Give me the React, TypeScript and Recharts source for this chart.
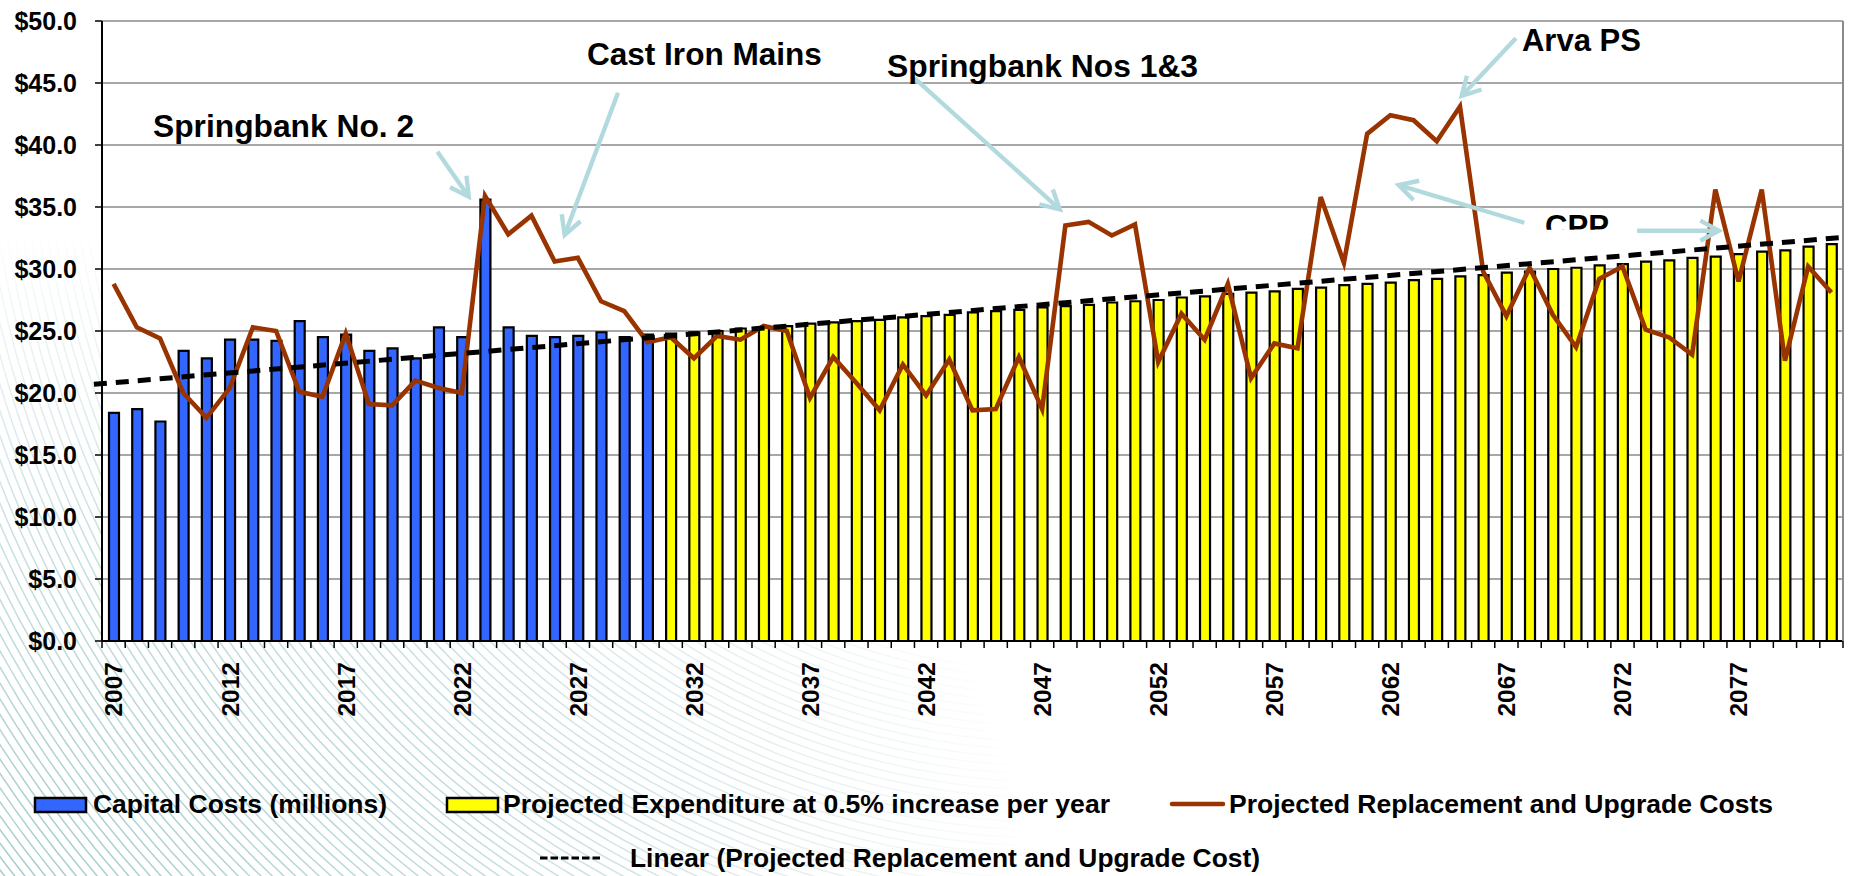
import React from 'react';
import {
  ComposedChart,
  Bar,
  Line,
  XAxis,
  YAxis,
  CartesianGrid,
  ReferenceLine,
  ReferenceDot,
  Legend,
} from 'recharts';

const FONT = '"Liberation Sans", Arial, Helvetica, sans-serif';

// ---------- DATA ----------
const YEARS: number[] = Array.from({ length: 75 }, (_, i) => 2007 + i); // 2007..2081

// Capital Costs (millions), 2007–2030
const CAPITAL_COSTS = [
  18.4, 18.7, 17.7, 23.4, 22.8, 24.3, 24.3, 24.2, 25.8, 24.5, 24.7, 23.4,
  23.6, 22.8, 25.3, 24.5, 35.6, 25.3, 24.6, 24.5, 24.6, 24.9, 24.5, 24.7,
];

// Projected Expenditure at 0.5% increase per year, 2031–2081
const PROJECTED_EXPENDITURE = [
  24.8, 24.9, 25.0, 25.2, 25.3, 25.4, 25.6, 25.7, 25.8, 25.9,
  26.1, 26.2, 26.3, 26.5, 26.6, 26.7, 26.9, 27.0, 27.1, 27.3,
  27.4, 27.5, 27.7, 27.8, 28.0, 28.1, 28.2, 28.4, 28.5, 28.7,
  28.8, 28.9, 29.1, 29.2, 29.4, 29.5, 29.7, 29.8, 30.0, 30.1,
  30.3, 30.4, 30.6, 30.7, 30.9, 31.0, 31.2, 31.4, 31.5, 31.8, 32.0,
];

// Projected Replacement and Upgrade Costs, 2007–2081
const REPLACEMENT_COSTS = [
  28.8, 25.3, 24.4, 20.0, 18.0, 20.4, 25.3, 25.0, 20.1, 19.7,
  24.8, 19.1, 19.0, 21.0, 20.4, 20.0, 35.9, 32.8, 34.3, 30.6,
  30.9, 27.4, 26.6, 24.1, 24.5, 22.8, 24.6, 24.3, 25.4, 25.0,
  19.6, 22.9, 20.8, 18.6, 22.3, 19.8, 22.7, 18.6, 18.7, 22.9,
  18.7, 33.5, 33.8, 32.7, 33.6, 22.5, 26.4, 24.3, 28.8, 21.2,
  24.0, 23.6, 35.8, 30.5, 40.9, 42.4, 42.0, 40.3, 43.1, 29.8,
  26.2, 30.1, 26.3, 23.7, 29.2, 30.2, 25.1, 24.5, 23.1, 36.4,
  29.0, 36.4, 22.6, 30.2, 28.1,
];

const Y_TICKS = [0, 5, 10, 15, 20, 25, 30, 35, 40, 45, 50];
const MINOR_TICKS = Array.from({ length: 49 }, (_, i) => i + 1).filter((v) => v % 5 !== 0);
const LABEL_STEP = 5;

// Linear trendline
const TREND_START = { year: 2006.15, value: 20.7 };
const TREND_END = { year: 2081.5, value: 32.55 };

// Callouts (year, value positions)
const ANNOTATIONS = [
  { text: 'Springbank No. 2', year: 2008.7, value: 40.65, length: 261 },
  { text: 'Cast Iron Mains', year: 2027.39, value: 46.45, length: 235 },
  { text: 'Springbank Nos 1&3', year: 2040.32, value: 45.48, length: 311 },
  { text: 'Arva PS', year: 2067.67, value: 47.58, length: 119 },
];
const CPP_LABEL = { text: 'CPP', year: 2068.66, value: 32.6, length: 64 };

const ARROWS = [
  { from: [2020.95, 39.46], to: [2022.3, 35.83] },
  { from: [2028.73, 44.22], to: [2026.43, 32.74] },
  { from: [2041.51, 45.38], to: [2047.76, 34.81] },
  { from: [2067.41, 48.6], to: [2065.07, 43.95] },
  { from: [2067.77, 33.73], to: [2062.36, 36.77] },
  { from: [2072.63, 33.09], to: [2076.15, 33.09] },
];

const chartData = YEARS.map((year, i) => ({
  year,
  capital: i < CAPITAL_COSTS.length ? CAPITAL_COSTS[i] : 0,
  projected: i >= CAPITAL_COSTS.length ? PROJECTED_EXPENDITURE[i - CAPITAL_COSTS.length] : 0,
  replacement: REPLACEMENT_COSTS[i],
}));

// ---------- STYLE ----------
const W = 1856;
const H = 876;
const MARGIN = { top: 21, right: 12, bottom: 0, left: 0 };
const Y_AXIS_W = 102;
const RIGHT_AXIS_W = 1;
const X_AXIS_H = 235;
const PLOT_W = W - MARGIN.left - MARGIN.right - Y_AXIS_W - RIGHT_AXIS_W;
const BAND = PLOT_W / YEARS.length;

const BLUE = '#3366ff';
const YELLOW = '#ffff00';
const BROWN = '#993300';
const ARROW_COLOR = '#b2dade';
const GRID = '#8a8a8a';

function YearTick(props: any) {
  const { x, y, payload, index } = props;
  const year = payload.value as number;
  const showLabel = (year - YEARS[0]) % LABEL_STEP === 0;
  const isLast = index === YEARS.length - 1;
  return (
    <g>
      <line x1={x - BAND / 2} x2={x - BAND / 2} y1={y} y2={y + 7} stroke="#000" strokeWidth={1.5} />
      {isLast && (
        <line x1={x + BAND / 2} x2={x + BAND / 2} y1={y} y2={y + 7} stroke="#000" strokeWidth={1.5} />
      )}
      {showLabel && (
        <text
          transform={`translate(${x},${y + 21}) rotate(-90)`}
          textAnchor="end"
          dy="0.36em"
          fontFamily={FONT}
          fontWeight={700}
          fontSize={24.5}
          fill="#000"
        >
          {year}
        </text>
      )}
    </g>
  );
}

function ArrowShape(props: any) {
  const { x1, y1, x2, y2 } = props;
  if ([x1, y1, x2, y2].some((v) => typeof v !== 'number' || isNaN(v))) return <g />;
  const ang = Math.atan2(y2 - y1, x2 - x1);
  const L = 21;
  const spread = Math.PI / 6.3;
  const a1 = ang + Math.PI - spread;
  const a2 = ang + Math.PI + spread;
  const pts = `${x2 + L * Math.cos(a1)},${y2 + L * Math.sin(a1)} ${x2},${y2} ${x2 + L * Math.cos(a2)},${y2 + L * Math.sin(a2)}`;
  return (
    <g>
      <line x1={x1} y1={y1} x2={x2} y2={y2} stroke={ARROW_COLOR} strokeWidth={4.4} />
      <polyline points={pts} fill="none" stroke={ARROW_COLOR} strokeWidth={4.4} strokeLinejoin="miter" />
    </g>
  );
}

function makeTextShape(text: string, length: number, clipBottom?: number) {
  return (props: any) => {
    const { cx, cy } = props;
    if (typeof cx !== 'number' || typeof cy !== 'number') return <g />;
    const id = 'clip-' + text.replace(/[^a-z0-9]/gi, '');
    return (
      <g>
        {clipBottom !== undefined && (
          <defs>
            <clipPath id={id}>
              <rect x={cx - 10} y={cy - 45} width={length + 20} height={45 - clipBottom} />
            </clipPath>
          </defs>
        )}
        <text
          x={cx}
          y={cy}
          fontFamily={FONT}
          fontWeight={700}
          fontSize={31}
          fill="#000"
          textLength={length}
          lengthAdjust="spacingAndGlyphs"
          clipPath={clipBottom !== undefined ? `url(#${id})` : undefined}
        >
          {text}
        </text>
      </g>
    );
  };
}

const legendText = {
  fontFamily: FONT,
  fontWeight: 700,
  fontSize: 26,
  fill: '#000',
  lengthAdjust: 'spacingAndGlyphs' as const,
};

function LegendContent() {
  return (
    <svg width={W} height={96} style={{ display: 'block' }}>
      <rect x={35} y={18} width={51} height={14} fill={BLUE} stroke="#000" strokeWidth={2.5} />
      <text x={93} y={33} textLength={294} {...legendText}>Capital Costs (millions)</text>
      <rect x={447} y={18} width={51} height={14} fill={YELLOW} stroke="#000" strokeWidth={2.5} />
      <text x={503} y={33} textLength={607} {...legendText}>Projected Expenditure at 0.5% increase per year</text>
      <line x1={1172} x2={1223} y1={24} y2={24} stroke={BROWN} strokeWidth={4.5} strokeLinecap="round" />
      <text x={1229} y={33} textLength={544} {...legendText}>Projected Replacement and Upgrade Costs</text>
      <line x1={540} x2={601} y1={78} y2={78} stroke="#000" strokeWidth={3} strokeDasharray="7.5 3" />
      <text x={630} y={87} textLength={630} {...legendText}>Linear (Projected Replacement and Upgrade Cost)</text>
    </svg>
  );
}

const RINGS = Array.from({ length: 150 }, (_, i) => 600 + i * 8);

function Background() {
  return (
    <svg width={W} height={H} style={{ position: 'absolute', left: 0, top: 0 }}>
      <defs>
        <radialGradient
          id="bgfade"
          gradientUnits="userSpaceOnUse"
          cx={0}
          cy={H}
          r={1050}
          gradientTransform={`translate(0 ${H}) scale(1 0.62) translate(0 ${-H})`}
        >
          <stop offset="0" stopColor="#fff" stopOpacity={0.95} />
          <stop offset="0.55" stopColor="#fff" stopOpacity={0.55} />
          <stop offset="1" stopColor="#fff" stopOpacity={0} />
        </radialGradient>
        <mask id="bgmask">
          <rect x={0} y={0} width={W} height={H} fill="url(#bgfade)" />
        </mask>
      </defs>
      <g mask="url(#bgmask)" fill="none" stroke="#9fc9c9" strokeWidth={1.5}>
        {RINGS.map((r) => (
          <circle key={r} cx={1050} cy={70} r={r} />
        ))}
      </g>
    </svg>
  );
}

export default function App() {
  return (
    <div style={{ position: 'absolute', left: 0, top: 0, width: W, height: H, background: '#fff', fontFamily: FONT }}>
      <Background />
      <div style={{ position: 'absolute', left: 0, top: 0 }}>
        <ComposedChart width={W} height={H} data={chartData} margin={MARGIN}>
          <CartesianGrid vertical={false} stroke={GRID} strokeWidth={1.4} fill="#ffffff" fillOpacity={1} />
          <XAxis
            dataKey="year"
            type="category"
            interval={0}
            height={X_AXIS_H}
            tickSize={0}
            tickMargin={0}
            tickLine={false}
            axisLine={{ stroke: '#000', strokeWidth: 2 }}
            tick={(p: any) => <YearTick {...p} />}
          />
          <XAxis xAxisId="num" type="number" dataKey="year" domain={[2006.5, 2081.5]} allowDataOverflow hide />
          <YAxis
            domain={[0, 50]}
            ticks={Y_TICKS}
            interval={0}
            width={Y_AXIS_W}
            tickSize={7}
            tickMargin={18}
            tickFormatter={(v: number) => `$${v.toFixed(1)}`}
            axisLine={{ stroke: '#000', strokeWidth: 2 }}
            tickLine={{ stroke: '#000', strokeWidth: 1.5 }}
            tick={{ fill: '#000', fontSize: 25, fontWeight: 700, fontFamily: FONT }}
          />
          <YAxis
            yAxisId="minor"
            orientation="left"
            mirror
            domain={[0, 50]}
            ticks={MINOR_TICKS}
            interval={0}
            width={10}
            tickSize={6.5}
            tick={false}
            tickLine={{ stroke: '#000', strokeWidth: 1.2 }}
            axisLine={false}
          />
          <YAxis
            yAxisId="right"
            orientation="right"
            domain={[0, 50]}
            width={RIGHT_AXIS_W}
            tick={false}
            tickLine={false}
            axisLine={{ stroke: GRID, strokeWidth: 2 }}
          />
          <Bar dataKey="capital" stackId="s" fill={BLUE} stroke="#000" strokeWidth={2.2} barSize={10} isAnimationActive={false} />
          <Bar dataKey="projected" stackId="s" fill={YELLOW} stroke="#000" strokeWidth={2.2} barSize={10} isAnimationActive={false} />
          <Line
            dataKey="replacement"
            type="linear"
            stroke={BROWN}
            strokeWidth={4.6}
            dot={false}
            activeDot={false}
            isAnimationActive={false}
          />
          <ReferenceLine
            xAxisId="num"
            segment={[
              { x: TREND_START.year, y: TREND_START.value },
              { x: TREND_END.year, y: TREND_END.value },
            ]}
            stroke="#000"
            strokeWidth={5}
            strokeDasharray="13 9"
            ifOverflow="visible"
          />
          {ARROWS.map((a, i) => (
            <ReferenceLine
              key={'arrow' + i}
              xAxisId="num"
              segment={[
                { x: a.from[0], y: a.from[1] },
                { x: a.to[0], y: a.to[1] },
              ]}
              ifOverflow="visible"
              shape={ArrowShape}
            />
          ))}
          {ANNOTATIONS.map((a) => (
            <ReferenceDot
              key={a.text}
              xAxisId="num"
              x={a.year}
              y={a.value}
              r={1}
              ifOverflow="visible"
              shape={makeTextShape(a.text, a.length)}
            />
          ))}
          <ReferenceDot
            xAxisId="num"
            x={CPP_LABEL.year}
            y={CPP_LABEL.value}
            r={1}
            ifOverflow="visible"
            shape={makeTextShape(CPP_LABEL.text, CPP_LABEL.length, 7)}
          />
          <Legend
            verticalAlign="middle"
            align="center"
            layout="horizontal"
            wrapperStyle={{ position: 'absolute', top: 780, left: 0, width: W, height: 96, margin: 0, padding: 0 }}
            content={() => <LegendContent />}
          />
        </ComposedChart>
      </div>
    </div>
  );
}
